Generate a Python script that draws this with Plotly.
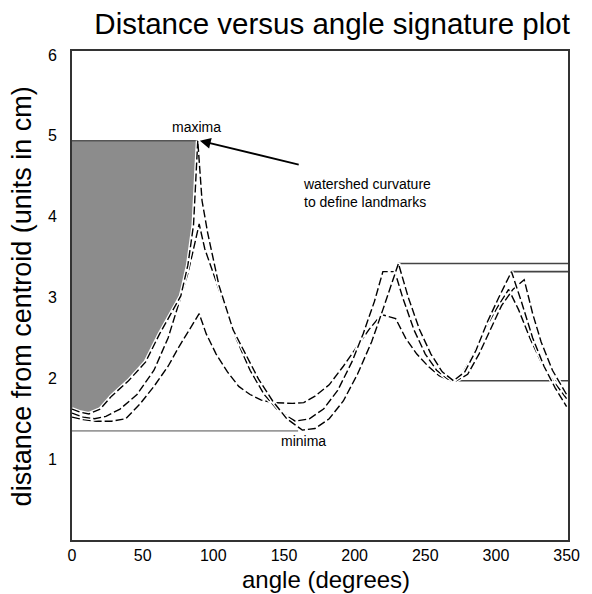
import plotly.graph_objects as go

# ---- data ----
angle_A = [0, 6, 12, 20, 28, 40, 52, 62, 70, 77, 82, 86, 89, 92, 96, 104, 114, 124, 132, 142, 152, 163, 172, 182, 192, 202, 212, 220, 226, 231, 238, 246, 254, 262, 270, 278, 286, 294, 302, 311, 318, 326, 334, 342, 350]
dist_A = [1.62, 1.58, 1.56, 1.62, 1.78, 1.97, 2.20, 2.55, 2.80, 3.02, 3.40, 3.90, 4.94, 4.20, 3.80, 3.15, 2.60, 2.25, 1.99, 1.72, 1.50, 1.36, 1.38, 1.50, 1.72, 2.05, 2.45, 2.85, 3.15, 3.42, 3.00, 2.60, 2.30, 2.08, 1.97, 2.08, 2.35, 2.70, 3.00, 3.32, 2.95, 2.50, 2.15, 1.88, 1.65]

angle_B = [0, 8, 16, 24, 34, 46, 58, 68, 76, 82, 86, 90, 94, 100, 108, 116, 126, 136, 146, 158, 168, 178, 188, 198, 206, 214, 220, 228.5, 234, 242, 250, 258, 266, 272, 280, 288, 296, 304, 312, 320, 326, 332, 340, 350]
dist_B = [1.57, 1.52, 1.50, 1.53, 1.62, 1.80, 2.10, 2.50, 2.95, 3.30, 3.60, 3.91, 3.60, 3.30, 2.90, 2.50, 2.10, 1.80, 1.60, 1.47, 1.50, 1.62, 1.85, 2.20, 2.55, 2.95, 3.32, 3.32, 3.00, 2.60, 2.30, 2.10, 1.99, 1.97, 2.05, 2.30, 2.60, 2.90, 3.10, 3.22, 2.80, 2.45, 2.10, 1.80]

angle_C = [0, 8, 17, 28, 38, 48, 58, 68, 76, 83, 90, 95, 102, 110, 118, 126, 134, 142, 150, 156, 164, 172, 182, 192, 202, 210, 219, 229, 236, 244, 252, 260, 268, 276, 284, 292, 300, 309, 316, 324, 332, 340, 350]
dist_C = [1.52, 1.49, 1.47, 1.47, 1.50, 1.68, 1.90, 2.15, 2.40, 2.60, 2.80, 2.55, 2.30, 2.08, 1.90, 1.80, 1.73, 1.70, 1.69, 1.69, 1.70, 1.78, 1.92, 2.15, 2.40, 2.60, 2.79, 2.74, 2.50, 2.30, 2.15, 2.03, 1.97, 2.05, 2.30, 2.60, 2.85, 3.10, 2.85, 2.50, 2.20, 1.98, 1.75]

# landmark lines: start angle, end angle, distance
landmark_x0 = [0, 0, 231, 220, 311, 266]
landmark_x1 = [89, 160, 351, 228.5, 351, 351]
landmark_y = [4.94, 1.35, 3.42, 3.32, 3.32, 1.97]
landmark_color = ["#555555", "#9a9a9a", "#444444", "#444444", "#444444", "#444444"]

x_ticks = [0, 50, 100, 150, 200, 250, 300, 350]
y_ticks = [1, 2, 3, 4, 5, 6]

FONT = "Liberation Sans, Arial, sans-serif"

fig = go.Figure()

# shaded region: between curve A (up to its maximum) and the maxima level
peak_idx = dist_A.index(max(dist_A))
fill_x = angle_A[:peak_idx + 1] + [angle_A[peak_idx], 0]
fill_y = dist_A[:peak_idx + 1] + [dist_A[peak_idx], dist_A[peak_idx]]
fig.add_trace(go.Scatter(x=fill_x, y=fill_y, fill="toself", fillcolor="#8c8c8c",
                         line=dict(width=0), mode="lines", hoverinfo="skip", showlegend=False))

# landmark lines
for x0, x1, y, c in zip(landmark_x0, landmark_x1, landmark_y, landmark_color):
    fig.add_trace(go.Scatter(x=[x0, x1], y=[y, y], mode="lines",
                             line=dict(color=c, width=1.6), showlegend=False, hoverinfo="skip"))

# curves with white halo
for ax_, ay_ in [(angle_C, dist_C), (angle_B, dist_B), (angle_A, dist_A)]:
    fig.add_trace(go.Scatter(x=ax_, y=ay_, mode="lines",
                             line=dict(color="white", width=4), showlegend=False, hoverinfo="skip"))
    fig.add_trace(go.Scatter(x=ax_, y=ay_, mode="lines",
                             line=dict(color="black", width=1.4, dash="8px,3px"),
                             showlegend=False))

annotations = [
    dict(x=88, y=5.11, xref="x", yref="y", text="maxima", showarrow=False,
         font=dict(family=FONT, size=14, color="black")),
    dict(x=164, y=1.23, xref="x", yref="y", text="minima", showarrow=False,
         font=dict(family=FONT, size=14, color="black")),
    dict(x=90.5, y=4.94, xref="x", yref="y", ax=161.5, ay=4.64, axref="x", ayref="y",
         text="", showarrow=True, arrowhead=2, arrowsize=1.2, arrowwidth=1.8, arrowcolor="black"),
    dict(x=162, y=4.29, xref="x", yref="y", xanchor="left", yanchor="middle", align="left",
         text="watershed curvature<br>to define landmarks", showarrow=False,
         font=dict(family=FONT, size=14, color="black")),
    dict(x=0.513, y=-0.1104, xref="paper", yref="paper", text="angle (degrees)",
         showarrow=False, font=dict(family=FONT, size=24, color="black"), yanchor="bottom",
         borderpad=0),
    dict(x=-0.100, y=0.499, xref="paper", yref="paper", text="distance from centroid (units in cm)",
         showarrow=False, textangle=-90, font=dict(family=FONT, size=27, color="black"),
         xanchor="center", yanchor="middle"),
]

# page body has an 8px margin, so the figure is offset by 8px
fig.update_layout(
    width=584, height=586,
    margin=dict(l=64, r=14, t=43, b=54),
    paper_bgcolor="white", plot_bgcolor="white",
    title=dict(text="Distance versus angle signature plot", x=0.555, xref="container",
               y=0.9735, yref="container", xanchor="center", yanchor="middle",
               font=dict(family=FONT, size=29.5, color="black")),
    annotations=annotations,
    showlegend=False,
)
fig.update_xaxes(range=[0, 351], tickvals=x_ticks, showgrid=False, zeroline=False,
                 showline=True, mirror=True, linecolor="#333333", linewidth=2,
                 ticks="", ticklabelstandoff=0,
                 tickfont=dict(family=FONT, size=16, color="black"))
fig.update_yaxes(range=[0, 6.05], tickvals=y_ticks, showgrid=False, zeroline=False,
                 showline=True, mirror=True, linecolor="#333333", linewidth=2,
                 ticks="", ticklabelstandoff=10,
                 tickfont=dict(family=FONT, size=16, color="black"))

fig.write_html("out.html")
